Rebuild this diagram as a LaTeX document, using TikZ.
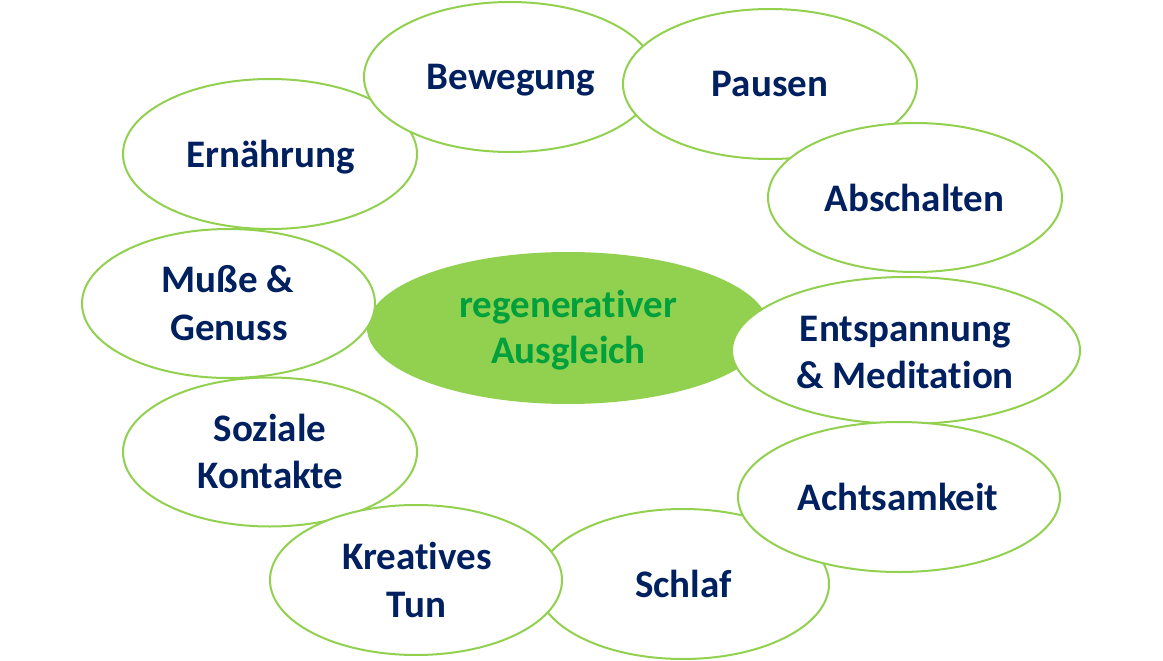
\documentclass[tikz,border=0pt]{standalone}
\usepackage{fontspec}
\setmainfont{Carlito}[Ligatures=NoCommon]
\usetikzlibrary{shapes.geometric}
\definecolor{ringgreen}{HTML}{92D050}
\definecolor{txtblue}{HTML}{002060}
\definecolor{txtgreen}{HTML}{00A03C}
\tikzset{
  ell/.style={ellipse, draw=ringgreen, line width=2pt, fill=white, inner sep=0pt, outer sep=0pt},
  core/.style={ellipse, fill=ringgreen, draw=none, inner sep=0pt, outer sep=0pt},
  lbl/.style={anchor=base, inner sep=0pt, text=txtblue, font=\fontsize{39}{47.5}\selectfont\bfseries},
  corelbl/.style={lbl, text=txtgreen}
}
\begin{document}
\begin{tikzpicture}[x=1pt,y=-1pt]
\useasboundingbox (0,0) rectangle (1163,661);
% centre
\node[core, minimum width=402pt, minimum height=152pt] (cen) at (568,328) {};
\node[corelbl] (cen1) at (568.5,317) {regenerativer};
\node[corelbl] (cen2) at (568.5,363) {Ausgleich};
% Ernährung
\node[ell, minimum width=294pt, minimum height=150pt] (ern) at (270,154) {};
\node[lbl] (ernt) at (271,167) {Ernährung};
% Bewegung
\node[ell, minimum width=292pt, minimum height=150pt] (bew) at (510,77) {};
\node[lbl] (bewt) at (511,89) {Bewegung};
% Pausen
\node[ell, minimum width=294pt, minimum height=150pt] (pau) at (770,84) {};
\node[lbl] (paut) at (770,97) {Pausen};
% Abschalten
\node[ell, minimum width=294pt, minimum height=149pt] (abs) at (915,197.5) {};
\node[lbl] (abst) at (914.5,211) {Abschalten};
% Muße
\node[ell, minimum width=293pt, minimum height=149pt] (mus) at (228.5,303.5) {};
\node[lbl] (must1) at (228,292) {Muße \&};
\node[lbl] (must2) at (229,340) {Genuss};
% Soziale
\node[ell, minimum width=294pt, minimum height=149pt] (soz) at (270,452) {};
\node[lbl] (sozt1) at (270,441) {Soziale};
\node[lbl] (sozt2) at (270.5,488) {Kontakte};
% Entspannung
\node[ell, minimum width=348pt, minimum height=147pt] (ent) at (906,350.5) {};
\node[lbl] (entt1) at (905.5,341) {Entspannung};
\node[lbl] (entt2) at (905,388) {\& Meditation};
% Schlaf
\node[ell, minimum width=292pt, minimum height=150pt] (sch) at (683,584) {};
\node[lbl] (scht) at (683.5,597) {Schlaf};
% Kreatives
\node[ell, minimum width=292pt, minimum height=150pt] (kre) at (416,580) {};
\node[lbl] (kret1) at (417,569) {Kreatives};
\node[lbl] (kret2) at (416.5,617) {Tun};
% Achtsamkeit
\node[ell, minimum width=322pt, minimum height=150pt] (ach) at (899,497) {};
\node[lbl] (acht) at (898,510) {Achtsamkeit};
\end{tikzpicture}
\end{document}
